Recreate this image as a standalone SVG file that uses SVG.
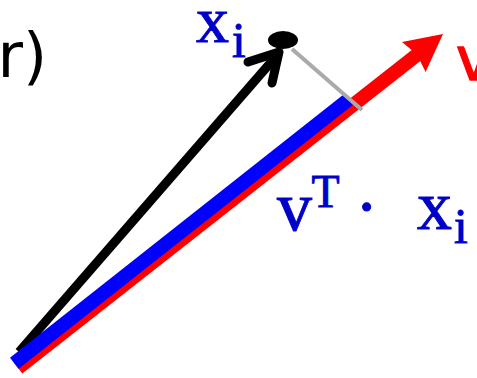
<svg xmlns="http://www.w3.org/2000/svg" width="477" height="378" viewBox="0 0 477 378">
  <style>
    .serif { font-family: "Liberation Serif", "Times New Roman", serif; fill: #0000c8; stroke: #0000c8; stroke-width: 0.9; }
    .hand { font-family: "DejaVu Sans", "Liberation Sans", sans-serif; }
  </style>
  <rect width="477" height="378" fill="#ffffff"/>
  <g id="connectors">
    <g id="vector-x" stroke="#000000" stroke-width="9" fill="none">
      <line x1="19" y1="352" x2="279" y2="53" stroke-linecap="butt"/>
      <polyline points="248,62 279,52 272,83" stroke-linecap="round" stroke-linejoin="round"/>
    </g>
    <g id="vector-v">
      <line x1="18" y1="368" x2="418" y2="54" stroke="#ff0000" stroke-width="14"/>
      <polygon points="443,34 402,42 417,54.4 425.6,72" fill="#ff0000"/>
    </g>
    <line id="projection" x1="14.3" y1="363.3" x2="348.5" y2="99.5" stroke="#0000ff" stroke-width="14"/>
    <line id="perpendicular" x1="292" y1="49" x2="362" y2="110" stroke="#aaaaaa" stroke-width="4"/>
  </g>
  <g id="point-xi">
    <ellipse cx="283" cy="40" rx="15" ry="9" fill="#000000"/>
  </g>
  <g id="label-xi">
    <text class="serif" x="196" y="42" font-size="66">x</text>
    <text class="serif" x="232" y="57" font-size="50">i</text>
  </g>
  <g id="label-dot">
    <text class="serif" x="277" y="230" font-size="70">v</text>
    <text class="serif" x="311.5" y="207" font-size="46">T</text>
    <text class="serif" x="355" y="230" font-size="70">·</text>
    <text class="serif" x="417" y="229" font-size="70">x</text>
    <text class="serif" x="454" y="243" font-size="50">i</text>
  </g>
  <g id="label-r">
    <text class="hand" x="-2.5" y="77" font-size="62" fill="#000000">r)</text>
  </g>
  <g id="label-v">
    <text class="hand" x="456" y="80" font-size="60" fill="#ff0000" stroke="#ff0000" stroke-width="1.5" stroke-linejoin="round">v</text>
  </g>
</svg>
